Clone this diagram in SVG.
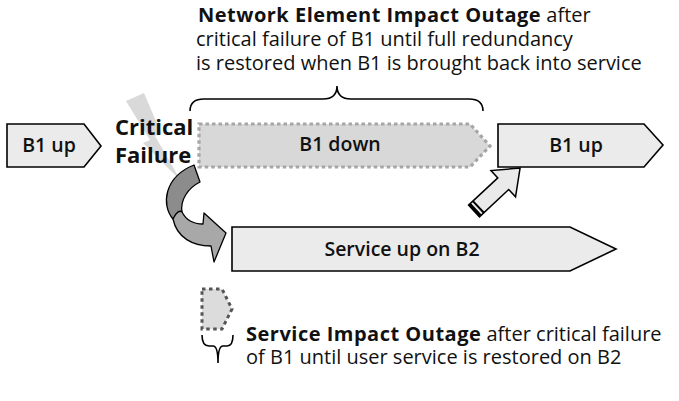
<svg xmlns="http://www.w3.org/2000/svg" width="679" height="401" viewBox="0 0 679 401">
  <style>
    .box { fill: #ebebeb; stroke: #000; stroke-width: 1.6; stroke-linejoin: miter; }
    .lbl { font-family: "Open Sans", "Noto Sans", "DejaVu Sans", sans-serif; font-size: 19.5px; font-weight: 600; fill: #111; text-anchor: middle; }
    .desc { font-family: "Open Sans", "Noto Sans", "DejaVu Sans", sans-serif; font-size: 20px; fill: #111; }
    .b { font-weight: 700; letter-spacing: 0.5px; }
    .crit { font-family: "Open Sans", "Noto Sans", "DejaVu Sans", sans-serif; font-size: 22px; font-weight: 700; fill: #111; }
    .brace { fill: none; stroke: #000; stroke-width: 1.6; }
  </style>

  <!-- lightning bolt (critical failure) -->
  <g id="failure">
    <polygon points="126,101 144,93 161,133 155,136 181,181 143,143 150,140" fill="#d9d9d9"/>
    <text class="crit" x="115" y="135">Critical</text>
    <text class="crit" x="115" y="163">Failure</text>
  </g>

  <g id="b1-up-left">
    <polygon class="box" points="7,124 84,124 101,146 84,167 7,167"/>
    <text class="lbl" x="49" y="152">B1 up</text>
  </g>

  <g id="b1-down">
    <polygon points="199,124 470,124 490,146 470,167 199,167" fill="#d8d8d8" stroke="#a6a6a6" stroke-width="3.2" stroke-dasharray="3.5,3"/>
    <text class="lbl" x="340" y="151">B1 down</text>
  </g>

  <g id="b1-up-right">
    <polygon class="box" points="498,124 644,124 663,145 644,167 498,167"/>
    <text class="lbl" x="576" y="152">B1 up</text>
  </g>

  <g id="service-b2">
    <polygon class="box" points="232,227 570,227 616,249 570,271 232,271"/>
    <text class="lbl" x="402" y="256">Service up on B2</text>
  </g>

  <g id="service-outage">
    <polygon points="202,289 222,289 232,309 222,329 202,329" fill="#dcdcdc" stroke="#555" stroke-width="3" stroke-dasharray="3.5,3.5"/>
  </g>

  <g id="connectors">
    <!-- curved failover arrow -->
    <g id="failover-arrow" stroke="#000" stroke-width="1.3" stroke-linejoin="round">
      <path d="M194,165 L200,182 C188,188 180,200 182,212 L173,219 C161,205 164,177 194,165 Z" fill="#8c8c8c"/>
      <path d="M173,219 C176,212 180,210 182,212 C186,220 194,224 203,224 L204,213 L226,233 L214,262 L211,246 C193,246 177,238 173,219 Z" fill="#a8a8a8"/>
    </g>
    <!-- restore arrow -->
    <g id="restore-arrow" transform="translate(474,211) rotate(-43)">
      <polygon points="0,-8 40,-8 40,-18 63,0 40,18 40,8 0,8" fill="#eaeaea" stroke="#000" stroke-width="1.5" stroke-linejoin="miter"/>
      <line x1="1.5" y1="-8" x2="1.5" y2="8" stroke="#000" stroke-width="3"/>
      <line x1="6" y1="-8" x2="6" y2="8" stroke="#000" stroke-width="2"/>
    </g>
  </g>

  <g id="annotations">
    <path class="brace" d="M190,111 Q190,99 204,99 L323,99 Q337,99 337,86 Q337,99 351,99 L469,99 Q483,99 483,111"/>
    <text class="desc" x="198" y="22"><tspan class="b">Network Element Impact Outage</tspan> after</text>
    <text class="desc" x="196" y="46">critical failure of B1 until full redundancy</text>
    <text class="desc" x="196" y="70">is restored when B1 is brought back into service</text>

    <path class="brace" d="M202,335 Q202,346 209,346 L213,346 Q218,346 218,363 Q218,346 223,346 L227,346 Q233,346 233,335"/>
    <text class="desc" x="246" y="341"><tspan class="b">Service Impact Outage</tspan> after critical failure</text>
    <text class="desc" x="246" y="364">of B1 until user service is restored on B2</text>
  </g>
</svg>
